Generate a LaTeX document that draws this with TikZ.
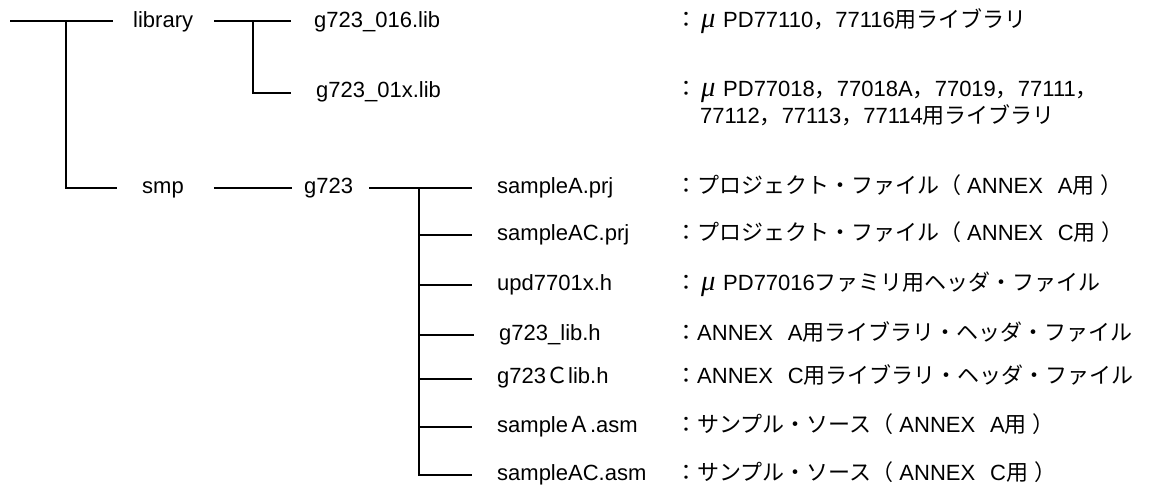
\documentclass[tikz,border=0pt]{standalone}
\usepackage{graphicx}
\usepackage{fontspec}
\setmainfont{Liberation Sans}
\newfontfamily\jp{Noto Sans CJK JP}
\newfontfamily\grk{Liberation Serif}
% full-width (CJK) runs inside the Latin text
\newcommand{\fw}[1]{{\jp #1}}
% "μ PD" prefix of the device names
\newcommand{\mupd}{\makebox[22pt][c]{\scalebox{1.3}{\grk\itshape μ}}\hspace{4pt}PD}
% "（ANNEX x用）" suffix
\newcommand{\annexfor}[1]{\fw{（}\hspace{6pt}ANNEX\hspace{15pt}#1\fw{用}\hspace{6pt}\fw{）}}
\tikzset{
  txt/.style={inner sep=0pt, anchor=base west, yshift=-5.7pt,
              font=\fontsize{22}{26}\selectfont},
  tree/.style={line width=2pt, black}
}
\begin{document}
\begin{tikzpicture}[x=1pt, y=-1pt]
\useasboundingbox[fill=white] (0,0) rectangle (1164,487);

% directory and file names (placed by the middle of their x-height)
\node[txt] (library) at (133,21.5) {library};
\node[txt] (lib16)   at (314,21.5) {g723\_016.lib};
\node[txt] (lib1x)   at (316,91.5) {g723\_01x.lib};
\node[txt] (smp)     at (142,188)  {smp};
\node[txt] (g723)    at (304,188)  {g723};
\node[txt] (sA)      at (497,188)  {sampleA.prj};
\node[txt] (sAC)     at (497,234.5){sampleAC.prj};
\node[txt] (upd)     at (497,285)  {upd7701x.h};
\node[txt] (glib)    at (499,335)  {g723\_lib.h};
\node[txt] (gClib)   at (497,378)  {g723\fw{Ｃ}lib.h};
\node[txt] (sAasm)   at (497,427)  {sample\fw{Ａ}.asm};
\node[txt] (sACasm)  at (497,475)  {sampleAC.asm};

% descriptions
\node[txt] (d16)   at (675,21.5) {\fw{：}\mupd 77110\fw{，}77116\fw{用ライブラリ}};
\node[txt] (d1x)   at (675,91)   {\fw{：}\mupd 77018\fw{，}77018A\fw{，}77019\fw{，}77111\fw{，}};
\node[txt] (d1xb)  at (700,117.5){77112\fw{，}77113\fw{，}77114\fw{用ライブラリ}};
\node[txt] (dA)    at (675,188)  {\fw{：プロジェクト・ファイル}\annexfor{A}};
\node[txt] (dAC)   at (675,234.5){\fw{：プロジェクト・ファイル}\annexfor{C}};
\node[txt] (dupd)  at (675,285)  {\fw{：}\mupd 77016\fw{ファミリ用ヘッダ・ファイル}};
\node[txt] (dglib) at (675,335)  {\fw{：}ANNEX\hspace{15pt}A\fw{用ライブラリ・ヘッダ・ファイル}};
\node[txt] (dgC)   at (675,378)  {\fw{：}ANNEX\hspace{15pt}C\fw{用ライブラリ・ヘッダ・ファイル}};
\node[txt] (dsA)   at (675,427)  {\fw{：サンプル・ソース}\annexfor{A}};
\node[txt] (dsAC)  at (675,475)  {\fw{：サンプル・ソース}\annexfor{C}};

% tree junctions
\coordinate (root) at (10,21.5);
\coordinate (j0) at (66,21.5);
\coordinate (j1) at (253,21.5);
\coordinate (j2) at (419,188);

% root level
\draw[tree] (root) -- ([xshift=-20pt]library.base west |- j0);
\draw[tree] (j0) |- ([xshift=-25pt]smp.west |- j2);
% library
\draw[tree] ([xshift=21pt]library.east |- j1) -- ([xshift=-23pt]lib16.west |- j1);
\draw[tree] (j1) |- ([xshift=-25pt,yshift=4.2pt]lib1x.base west);
% smp / g723
\draw[tree] ([xshift=30pt]smp.east |- j2) -- ([xshift=-12pt]g723.west |- j2);
\draw[tree] ([xshift=16pt]g723.east |- j2) -- ([xshift=-25pt]sA.west |- j2);
\draw[tree] (j2) |- ([xshift=-25pt,yshift=5.7pt]sACasm.base west);
\foreach \f in {sAC,upd,glib,sAasm}
  \draw[tree] ([yshift=5.7pt]j2 |- \f.base west) -- ([xshift=-25pt,yshift=5.7pt]\f.base west);
\draw[tree] ([yshift=4.4pt]j2 |- gClib.base west) -- ([xshift=-25pt,yshift=4.4pt]gClib.base west);
\end{tikzpicture}
\end{document}
